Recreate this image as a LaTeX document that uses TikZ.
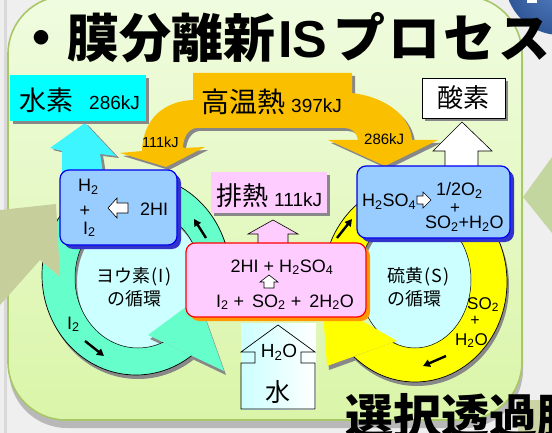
\documentclass[tikz,border=0pt]{standalone}
\usepackage{fontspec}
\setmainfont{Liberation Sans}
\newfontfamily\jp{Noto Sans CJK JP}
\usetikzlibrary{arrows.meta}
\newcommand\subs[1]{\textsubscript{#1}}
\newcommand\fs[1]{\fontsize{#1}{#1}\selectfont}
\definecolor{bgout}{HTML}{EFEFEF}
\definecolor{paneltop}{HTML}{F0FCE0}
\definecolor{panelbot}{HTML}{DAF5A8}
\definecolor{panelline}{HTML}{A8C868}
\definecolor{orng}{HTML}{FAC000}
\definecolor{cyanbox}{HTML}{00FFFF}
\definecolor{cyanarr}{HTML}{3CF5FF}
\definecolor{ringI}{HTML}{66FFCC}
\definecolor{ringS}{HTML}{FFFF00}
\definecolor{ltcyan}{HTML}{CCFFFF}
\definecolor{pinkf}{HTML}{FFCCFF}
\definecolor{bluef}{HTML}{99CCFF}
\definecolor{blueline}{HTML}{0000EE}
\definecolor{blueshad}{HTML}{3333CC}
\definecolor{khaki}{HTML}{C6CF9B}
\definecolor{sage}{HTML}{C4D6A0}
\definecolor{ballblue}{HTML}{3C6EBE}
\definecolor{shadowc}{HTML}{888888}
\definecolor{redline}{HTML}{FF0000}
\definecolor{orshad}{HTML}{FF9900}
\tikzset{
  txt/.style={inner sep=0, anchor=base west},
  ctxt/.style={inner sep=0, anchor=base},
  bluebox/.style={fill=bluef, draw=blueline, line width=1.2, rounded corners=9},
  blueshadow/.style={fill=blueshad, rounded corners=9},
  flowarr/.style={line width=2.4, -{Triangle[length=7pt,width=7.5pt]}},
  blockarr/.style={draw=black, line width=0.6, line join=miter},
}
\begin{document}
\begin{tikzpicture}[x=1pt,y=-1pt]
\useasboundingbox (0,0) rectangle (552,433);
% outside background
\fill[bgout] (0,0) rectangle (552,433);
\fill[black!15] (4,0) rectangle (7,433);
% panel
\fill[black!28, rounded corners=58] (9,0) rectangle (523,428);
\shade[top color=paneltop, bottom color=panelbot, rounded corners=58] (8,-4) rectangle (522,420);
\draw[panelline, line width=1.6, rounded corners=58] (8,-4) rectangle (522,420);
% outside decorations
\fill[sage] (523,197) -- (552,157) -- (552,233) -- cycle;
\shade[inner color=ballblue!85!white, outer color=ballblue!80!black] (560,-20) circle (55);
\fill[white] (527,-1) rectangle (537,3);
\fill[khaki!90!white] (518,400) rectangle (552,433);

% ===== Iodine ring =====
\fill[ltcyan] (138,278) ellipse [x radius=63, y radius=70];
\begin{scope}[shift={(2,4)}]
  \begin{scope}
    \clip (-100,-100) -- (400,-100) -- (400,268) -- (142,268) -- (148,335) -- (300,407) -- (300,600) -- (-100,600) -- cycle;
    \fill[shadowc, even odd rule] (136,275) ellipse [x radius=94, y radius=100] (138,278) ellipse [x radius=63, y radius=70];
  \end{scope}
  \fill[shadowc] (148,335) -- (224,371) -- (198,298) -- cycle;
\end{scope}
\begin{scope}
  \clip (-100,-100) -- (400,-100) -- (400,268) -- (142,268) -- (148,335) -- (300,407) -- (300,600) -- (-100,600) -- cycle;
  \fill[ringI, even odd rule] (136,275) ellipse [x radius=94, y radius=100] (138,278) ellipse [x radius=63, y radius=70];
  \draw[line width=0.7] (136,275) ellipse [x radius=94, y radius=100];
\end{scope}
\draw[line width=0.5] (138,278) ellipse [x radius=63, y radius=70];
\fill[ringI] (148,335) -- (224,371) -- (198,298) -- cycle;

% ===== Sulfur ring =====
\fill[ltcyan] (415,280) ellipse [x radius=56, y radius=68];
\begin{scope}[shift={(2,4)}]
  \begin{scope}
    \clip (650,-100) -- (150,-100) -- (150,270) -- (408,270) -- (397,341) -- (250,394) -- (250,600) -- (650,600) -- cycle;
    \fill[shadowc, even odd rule] (415,282) ellipse [x radius=92, y radius=100] (415,280) ellipse [x radius=56, y radius=68];
  \end{scope}
  \fill[shadowc] (397,341) -- (327,366) -- (322,298) -- cycle;
\end{scope}
\begin{scope}
  \clip (650,-100) -- (150,-100) -- (150,270) -- (408,270) -- (397,341) -- (250,394) -- (250,600) -- (650,600) -- cycle;
  \fill[ringS, even odd rule] (415,282) ellipse [x radius=92, y radius=100] (415,280) ellipse [x radius=56, y radius=68];
  \draw[line width=0.7] (415,282) ellipse [x radius=92, y radius=100];
\end{scope}
\draw[line width=0.5] (415,280) ellipse [x radius=56, y radius=68];
\fill[ringS] (397,341) -- (327,366) -- (322,298) -- cycle;

% cycle flow arrows
\coordinate (ia1) at (206,238); \coordinate (ia2) at (194,219);
\coordinate (ib1) at (85,341);  \coordinate (ib2) at (104,356);
\coordinate (sa1) at (337,238); \coordinate (sa2) at (352,219);
\coordinate (sb1) at (446,356); \coordinate (sb2) at (423,366);
\draw[flowarr] (ia1) -- (ia2);
\draw[flowarr] (ib1) -- (ib2);
\draw[flowarr] (sa1) -- (sa2);
\draw[flowarr] (sb1) -- (sb2);

% cyan arrow to hydrogen
\fill[shadowc, shift={(3,2)}] (62,200) -- (62,151) -- (50,148) -- (85,123) -- (116,156) -- (100,154) .. controls (101,160) and (103,165) .. (104,200) -- cycle;
\fill[cyanarr] (62,200) -- (62,151) -- (50,148) -- (85,123) -- (116,156) -- (100,154) .. controls (101,160) and (103,165) .. (104,200) -- cycle;

% khaki arrow at left
\fill[khaki] (0,210) -- (56,204) -- (60,277) -- (40,260) -- (0,305) -- cycle;

% orange heat arch
\fill[shadowc, shift={(3,3)}] (193,73) -- (352,73) -- (352,93) .. controls (385,97) and (410,115) .. (412,140) -- (438,140) -- (385,166) -- (328,140) -- (358,140) .. controls (357,133) and (352,128) .. (345,128) -- (196,128) .. controls (188,129) and (183,138) .. (183,148) -- (205,147) -- (166,167) -- (120,153) -- (142,151) .. controls (143,118) and (165,101) .. (193,100) -- cycle;
\fill[orng] (193,73) -- (352,73) -- (352,93) .. controls (385,97) and (410,115) .. (412,140) -- (438,140) -- (385,166) -- (328,140) -- (358,140) .. controls (357,133) and (352,128) .. (345,128) -- (196,128) .. controls (188,129) and (183,138) .. (183,148) -- (205,147) -- (166,167) -- (120,153) -- (142,151) .. controls (143,118) and (165,101) .. (193,100) -- cycle;

% top boxes
\fill[shadowc] (13,78) rectangle (149,124);
\fill[cyanbox] (10,75) rectangle (146,121);
\fill[shadowc] (425,81) rectangle (508,121);
\draw[fill=white, line width=0.8] (422,78) rectangle (505,118);
\fill[shadowc] (214,175) rectangle (330,216);
\fill[pinkf] (211,172) rectangle (327,213);

% block arrows
\draw[blockarr, fill=pinkf] (258,243) -- (258,234) -- (248,234) -- (273,220) -- (298,234) -- (288,234) -- (288,243);
\draw[blockarr, fill=white] (445,166) -- (445,151) -- (433,151) -- (462,122) -- (492,151) -- (478,151) -- (478,166);

% reaction boxes
\fill[blueshadow] (64,174) rectangle (181,249);
\draw[bluebox] (60,170) rectangle (177,245);
\fill[blueshadow] (361,170) rectangle (514,242);
\draw[bluebox] (357,166) rectangle (510,238);
\fill[orshad, rounded corners=9] (190,247) rectangle (370,321);
\draw[fill=pinkf, draw=redline, line width=1.2, rounded corners=9] (186,243) rectangle (366,317);

% small white arrows
\draw[blockarr, fill=white] (108,208) -- (117,198) -- (117,203) -- (128,203) -- (128,213) -- (117,213) -- (117,218) -- cycle;
\draw[blockarr, fill=white] (417,196) -- (423,196) -- (423,192) -- (431,200) -- (423,208) -- (423,204) -- (417,204) -- cycle;
\draw[blockarr, fill=white] (269,275) -- (278,282) -- (274,282) -- (274,288) -- (264,288) -- (264,282) -- (260,282) -- cycle;

% water house
\shade[left color=ltcyan, right color=white] (241,323) rectangle (316,409);
\draw[line width=0.7, line join=miter] (241,352) -- (278,325) -- (315,352) -- (301,352) -- (301,363) -- (315,363) -- (315,409) -- (241,409) -- (241,363) -- (255,363) -- (255,352) -- cycle;

% ===== texts =====
\node[txt] (title) at (15,58) {\fs{52}\bfseries{\jp ・膜分離新}\kern3pt IS\kern6pt{\jp プ\kern3pt ロ\kern3pt セ\kern3pt ス}};
\node[txt] (membrane) at (345,434) {\fs{48}\jp\bfseries 選択透過膜};

\node[txt] (h2) at (19,111) {\fs{27}\jp 水素};
\node[txt] (h2kj) at (89,110) {\fs{19}286kJ};
\node[txt] (heat) at (201,113) {\fs{28}\jp 高温熱};
\node[txt] (heatkj) at (291,113) {\fs{19}397kJ};
\node[txt] (heatl) at (142,148) {\fs{14.5}111kJ};
\node[txt] (heatr) at (364,145) {\fs{15}286kJ};
\node[txt] (o2) at (437,108) {\fs{26}\jp 酸素};
\node[txt] (waste) at (216,206) {\fs{26}\jp 排熱};
\node[txt] (wastekj) at (274,207) {\fs{19}111kJ};

\node[txt] (hih2) at (78,192) {\fs{18}H\subs{2}};
\node[ctxt] (hiplus) at (85,217) {\fs{18}+};
\node[txt] (hii2) at (83,234) {\fs{18}I\subs{2}};
\node[txt] (hi) at (140,215) {\fs{18}2HI};

\node[txt] (hso) at (362,207) {\fs{18}H\subs{2}SO\subs{4}};
\node[txt] (halfo) at (436,196) {\fs{18}1/2O\subs{2}};
\node[ctxt] (soplus) at (455,214) {\fs{17}+};
\node[txt] (so2h2o) at (425,229) {\fs{18}SO\subs{2}+H\subs{2}O};

\node[ctxt] (bun1) at (282,272) {\fs{18}2HI + H\subs{2}SO\subs{4}};
\node[ctxt] (bun2) at (285,307) {\fs{18}I\subs{2} +\, SO\subs{2} +\, 2H\subs{2}O};

\node[ctxt] (icyc1) at (134,282) {\fs{18}\jp ヨウ素\kern1pt(\kern1pt I\kern1pt)};
\node[ctxt] (icyc2) at (134,305) {\fs{18}\jp の循環};
\node[txt] (scyc1) at (387,282) {\fs{18}\jp 硫黄\kern1pt(\kern1pt S\kern1pt)};
\node[txt] (scyc2) at (387,305) {\fs{18}\jp の循環};
\node[txt] (i2lab) at (67,329) {\fs{18}I\subs{2}};
\node[txt] (so2lab) at (467,309) {\fs{17}SO\subs{2}};
\node[ctxt] (so2plus) at (475,325) {\fs{16}+};
\node[txt] (h2olab) at (455,345) {\fs{17}H\subs{2}O};

\node[ctxt] (wh2o) at (279,357) {\fs{19}H\subs{2}O};
\node[ctxt] (water) at (278,401) {\fs{25}\jp 水};
\end{tikzpicture}
\end{document}
